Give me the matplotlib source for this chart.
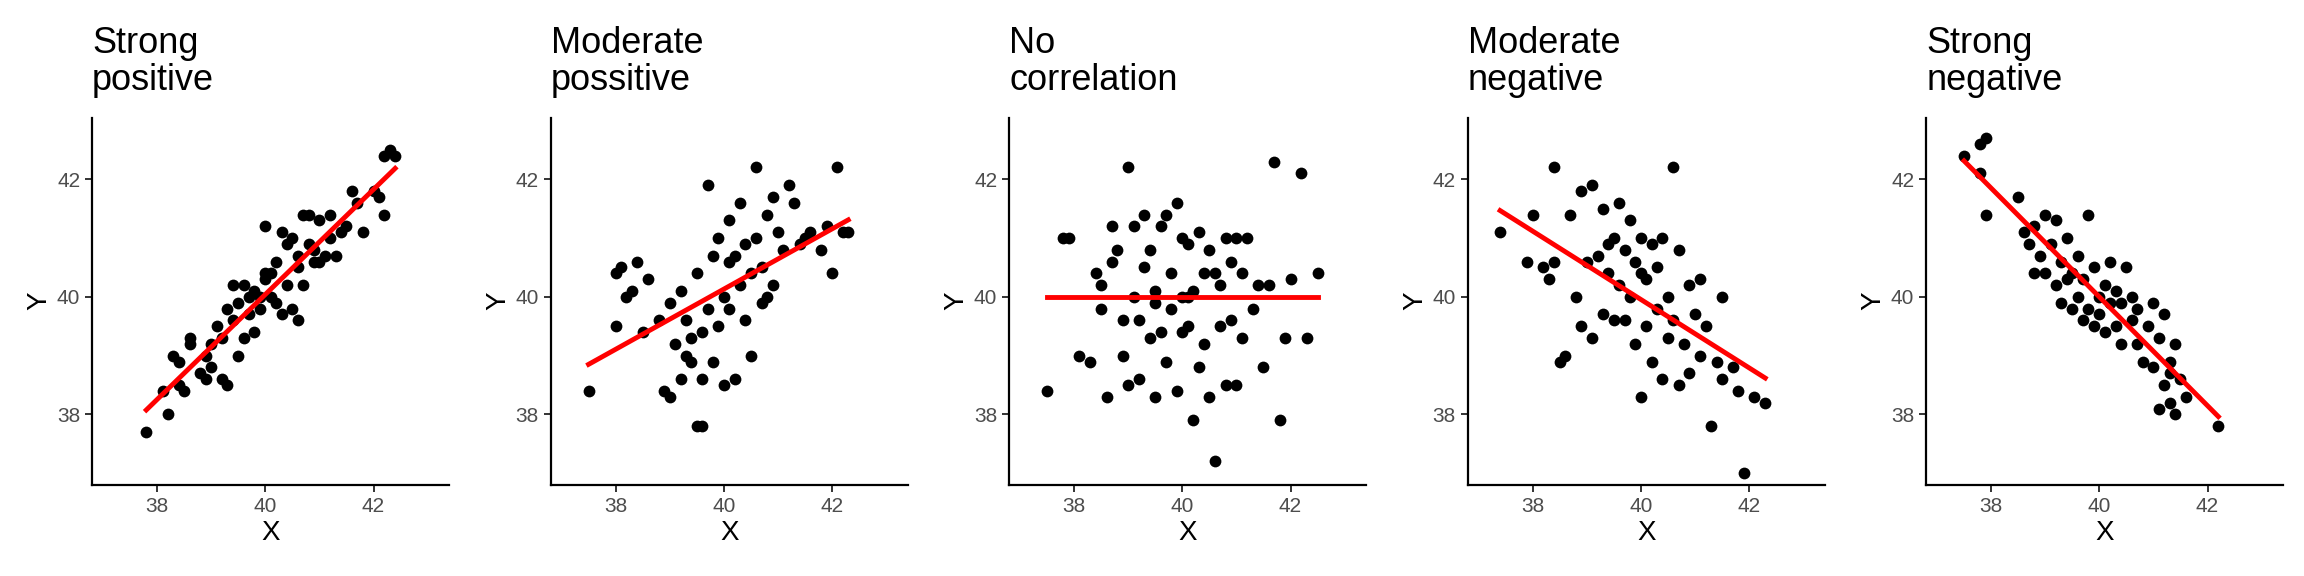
import numpy as np
import matplotlib
matplotlib.use("Agg")
import matplotlib.pyplot as plt

plt.rcParams['font.family'] = ['Liberation Sans', 'DejaVu Sans']

titles = ["Strong\npositive", "Moderate\npossitive", "No\ncorrelation",
          "Moderate\nnegative", "Strong\nnegative"]

strong_pos = [(37.8,37.7),(38.1,38.4),(38.2,38.0),(38.3,39.0),(38.4,38.5),(38.5,38.4),(38.4,38.9),
    (38.6,39.2),(38.6,39.3),(38.8,38.7),(38.9,38.6),(38.9,39.0),(39.0,38.8),(39.1,39.5),(39.2,39.3),
    (39.2,38.6),(39.3,39.8),(39.3,38.5),(39.4,40.2),(39.4,39.6),(39.5,39.0),(39.5,39.9),(39.6,39.3),
    (39.6,40.2),(39.7,39.7),(39.7,40.0),(39.8,39.4),(39.8,40.1),(39.9,39.8),(40.0,40.3),(40.0,40.4),
    (40.0,41.2),(40.1,40.0),(40.1,40.4),(40.2,39.9),(40.2,40.6),(40.3,41.1),(40.3,39.7),(40.4,40.9),
    (40.4,40.2),(40.5,39.8),(40.5,41.0),(40.6,39.6),(40.6,40.5),(40.7,41.4),(40.7,40.2),(40.8,40.9),
    (40.8,41.4),(40.9,40.8),(41.0,41.3),(41.0,40.6),(41.1,40.7),(41.2,41.0),(41.3,40.7),(41.4,41.1),
    (41.5,41.2),(41.6,41.8),(41.7,41.6),(41.8,41.1),(42.0,41.8),(42.1,41.7),(42.2,42.4),(42.3,42.5),
    (42.4,42.4),(42.2,41.4),(40.9,40.6),(39.0,39.2),(39.9,40.0),(40.6,40.7),(41.2,41.4)]

moderate_pos = [(37.5,38.4),(38.0,39.5),(38.0,40.4),(38.1,40.5),(38.2,40.0),(38.3,40.1),(38.4,40.6),
    (38.5,39.4),(38.6,40.3),(38.8,39.6),(38.9,38.4),(39.0,38.3),(39.0,39.9),(39.1,39.2),(39.2,40.1),
    (39.2,38.6),(39.3,39.6),(39.4,38.9),(39.4,39.3),(39.5,37.8),(39.6,37.8),(39.5,40.4),(39.6,38.6),
    (39.6,39.4),(39.7,41.9),(39.7,39.8),(39.8,38.9),(39.8,40.7),(39.9,39.5),(39.9,41.0),(40.0,38.5),
    (40.0,40.0),(40.1,39.8),(40.1,41.3),(40.2,38.6),(40.2,40.7),(40.3,40.2),(40.3,41.6),(40.4,39.6),
    (40.4,40.9),(40.5,40.4),(40.5,39.0),(40.6,41.0),(40.6,42.2),(40.7,40.5),(40.7,39.9),(40.8,41.4),
    (40.8,40.0),(40.9,41.7),(41.0,41.1),(41.1,40.8),(41.2,41.9),(41.3,41.6),(41.4,40.9),(41.5,41.0),
    (41.6,41.1),(41.8,40.8),(41.9,41.2),(42.0,40.4),(42.1,42.2),(42.2,41.1),(42.3,41.1),(40.1,40.6),
    (39.3,39.0),(40.9,40.2)]

no_corr = [(37.5,38.4),(37.8,41.0),(37.9,41.0),(38.1,39.0),(38.3,38.9),(38.4,40.4),(38.5,39.8),
    (38.5,40.2),(38.6,38.3),(38.7,41.2),(38.7,40.6),(38.8,40.8),(38.9,39.6),(38.9,39.0),(39.0,42.2),
    (39.0,38.5),(39.1,41.2),(39.1,40.0),(39.2,38.6),(39.2,39.6),(39.3,41.4),(39.3,40.5),(39.4,39.3),
    (39.4,40.8),(39.5,38.3),(39.5,40.1),(39.6,41.2),(39.6,39.4),(39.7,41.4),(39.7,38.9),(39.8,40.4),
    (39.8,39.8),(39.9,41.6),(39.9,38.4),(40.0,41.0),(40.0,39.4),(40.0,40.0),(40.1,40.9),(40.1,39.5),
    (40.2,37.9),(40.2,40.1),(40.3,41.1),(40.3,38.8),(40.4,40.4),(40.4,39.2),(40.5,40.8),(40.5,38.3),
    (40.6,37.2),(40.6,40.4),(40.7,39.5),(40.8,41.0),(40.8,38.5),(40.9,40.6),(40.9,39.6),(41.0,41.0),
    (41.0,38.5),(41.1,40.4),(41.1,39.3),(41.2,41.0),(41.3,39.8),(41.4,40.2),(41.5,38.8),(41.6,40.2),
    (41.7,42.3),(41.8,37.9),(41.9,39.3),(42.0,40.3),(42.2,42.1),(42.3,39.3),(42.5,40.4),(40.1,40.0),
    (39.5,39.9),(40.7,40.2)]

moderate_neg = [(37.4,41.1),(37.9,40.6),(38.0,41.4),(38.2,40.5),(38.3,40.3),(38.4,42.2),(38.4,40.6),
    (38.5,38.9),(38.6,39.0),(38.7,41.4),(38.8,40.0),(38.9,41.8),(38.9,39.5),(39.0,40.6),(39.1,41.9),
    (39.1,39.3),(39.2,40.7),(39.3,41.5),(39.3,39.7),(39.4,40.4),(39.5,41.0),(39.5,39.6),(39.6,41.6),
    (39.6,40.2),(39.7,40.8),(39.7,39.6),(39.8,41.3),(39.8,40.0),(39.9,39.2),(39.9,40.6),(40.0,41.0),
    (40.0,38.3),(40.1,40.3),(40.1,39.5),(40.2,40.9),(40.2,38.9),(40.3,40.5),(40.3,39.8),(40.4,41.0),
    (40.4,38.6),(40.5,40.0),(40.5,39.3),(40.6,42.2),(40.6,39.6),(40.7,40.8),(40.7,38.5),(40.8,39.2),
    (40.9,40.2),(40.9,38.7),(41.0,39.7),(41.1,40.3),(41.1,39.0),(41.2,39.5),(41.3,37.8),(41.4,38.9),
    (41.5,40.0),(41.5,38.6),(41.7,38.8),(41.8,38.4),(41.9,37.0),(42.1,38.3),(42.3,38.2),(40.0,40.4),
    (39.4,40.9)]

strong_neg = [(37.5,42.4),(37.8,42.6),(37.8,42.1),(37.9,42.7),(37.9,41.4),(38.5,41.7),(38.6,41.1),
    (38.7,40.9),(38.8,41.2),(38.8,40.4),(38.9,40.7),(39.0,41.4),(39.0,40.4),(39.1,40.9),(39.2,41.3),
    (39.2,40.2),(39.3,40.6),(39.3,39.9),(39.4,41.0),(39.4,40.3),(39.5,39.8),(39.6,40.7),(39.6,40.0),
    (39.7,39.6),(39.7,40.3),(39.8,41.4),(39.8,39.8),(39.9,40.5),(39.9,39.5),(40.0,40.0),(40.0,39.7),
    (40.1,40.2),(40.1,39.4),(40.2,39.9),(40.2,40.6),(40.3,39.5),(40.4,39.2),(40.4,39.9),(40.5,40.5),
    (40.6,39.6),(40.6,40.0),(40.7,39.2),(40.7,39.8),(40.8,38.9),(40.9,39.5),(41.0,38.8),(41.0,39.9),
    (41.1,39.3),(41.1,38.1),(41.2,38.5),(41.2,39.7),(41.3,38.9),(41.3,38.2),(41.4,38.0),(41.4,39.2),
    (41.5,38.6),(41.6,38.3),(42.2,37.8),(41.3,38.7),(39.5,40.4),(40.3,40.1)]

panels = [strong_pos, moderate_pos, no_corr, moderate_neg, strong_neg]

fig = plt.figure(figsize=(23.04, 5.76), dpi=100)
left0, step, width = 0.040, 0.199, 0.155
for i, (title, pts) in enumerate(zip(titles, panels)):
    ax = fig.add_axes([left0 + i * step, 0.158, width, 0.638])
    xy = np.array(pts)
    x, y = xy[:, 0], xy[:, 1]
    ax.scatter(x, y, s=72, color="black", zorder=2, linewidths=0)
    if i == 2:
        k, b = 0.0, 40.0
    else:
        k, b = np.polyfit(x, y, 1)
    xs = np.array([x.min(), x.max()])
    ax.plot(xs, k * xs + b, color="red", lw=3.5, zorder=3)
    ax.set_xlim(36.8, 43.4)
    ax.set_ylim(36.8, 43.05)
    ax.set_xticks([38, 40, 42])
    ax.set_yticks([38, 40, 42])
    for s in ["top", "right"]:
        ax.spines[s].set_visible(False)
    for s in ["left", "bottom"]:
        ax.spines[s].set_linewidth(1.6)
    ax.tick_params(labelsize=15, labelcolor="#4d4d4d", color="#333333", length=5, width=1.4)
    ax.set_xlabel("X", fontsize=20, labelpad=3)
    ax.set_ylabel("Y", fontsize=20, labelpad=3)
    ax.set_title(title, loc="left", fontsize=26, pad=20, ha="left", linespacing=1.05)

fig.savefig("out.png", dpi=100)
